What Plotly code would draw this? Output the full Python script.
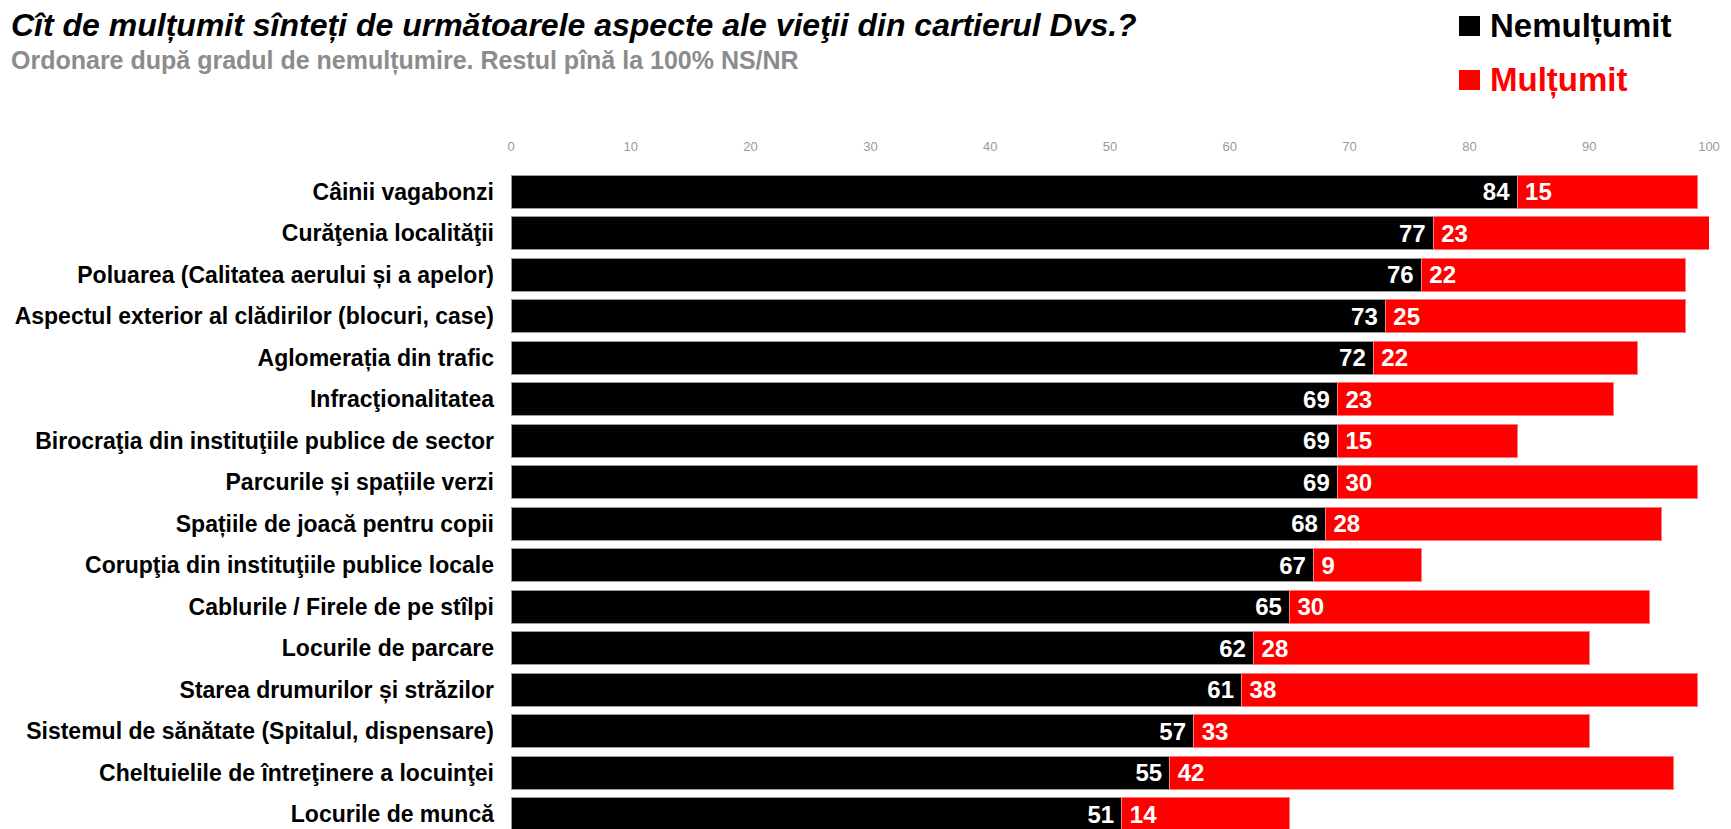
import plotly.graph_objects as go

# Data (percentages)
categories = [
    'Câinii vagabonzi',
    'Curăţenia localităţii',
    'Poluarea (Calitatea aerului și a apelor)',
    'Aspectul exterior al clădirilor (blocuri, case)',
    'Aglomerația din trafic',
    'Infracţionalitatea',
    'Birocraţia din instituţiile publice de sector',
    'Parcurile și spațiile verzi',
    'Spațiile de joacă pentru copii',
    'Corupţia din instituţiile publice locale',
    'Cablurile / Firele de pe stîlpi',
    'Locurile de parcare',
    'Starea drumurilor și străzilor',
    'Sistemul de sănătate (Spitalul, dispensare)',
    'Cheltuielile de întreţinere a locuinţei',
    'Locurile de muncă',
]
nemultumit = [84, 77, 76, 73, 72, 69, 69, 69, 68, 67, 65, 62, 61, 57, 55, 51]
multumit = [15, 23, 22, 25, 22, 23, 15, 30, 28, 9, 30, 28, 38, 33, 42, 14]
x_ticks = [0, 10, 20, 30, 40, 50, 60, 70, 80, 90, 100]

# page is 1731x829, the body margin puts the figure at (8, 8)
OFF = 8
PAGE_W, PAGE_H = 1731, 829
W, H = PAGE_W - OFF, PAGE_H - OFF
L, R, T, B = 511 - OFF, 22, 171 - OFF, 0
FONT = 'Liberation Sans, Arial, sans-serif'


def px_x(x):
    # page pixel -> paper fraction
    return (x - OFF - L) / (W - L - R)


def px_y(y):
    return (H - B - (y - OFF)) / (H - T - B)


fig = go.Figure()
fig.add_trace(go.Bar(
    y=categories, x=nemultumit, orientation='h', name='Nemulțumit',
    marker=dict(color='#000000', line=dict(color='#9a9a9a', width=1)),
    texttemplate='%{x}\u2009', textposition='inside', insidetextanchor='end',
    textangle=0, constraintext='none',
    textfont=dict(family=FONT, size=24, color='white', weight='bold'),
))
fig.add_trace(go.Bar(
    y=categories, x=multumit, orientation='h', name='Mulțumit',
    marker=dict(color='#ff0000', line=dict(color='#ff7a7a', width=1)),
    texttemplate='\u2009%{x}', textposition='inside', insidetextanchor='start',
    textangle=0, constraintext='none',
    textfont=dict(family=FONT, size=24, color='white', weight='bold'),
))

fig.update_layout(
    barmode='stack', bargap=0.2,
    width=W, height=H,
    margin=dict(l=L, r=R, t=T, b=B, pad=0),
    paper_bgcolor='white', plot_bgcolor='white',
    showlegend=False,
    font=dict(family=FONT),
    uniformtext=dict(minsize=24, mode='show'),
)
fig.update_xaxes(
    range=[0, 100], side='top', tickvals=x_ticks,
    showgrid=False, zeroline=False, showline=False,
    ticks='outside', ticklen=14, tickcolor='rgba(0,0,0,0)',
    tickfont=dict(family='Liberation Sans Narrow, ' + FONT, size=13, color='#9a9a9a'),
)
fig.update_yaxes(
    type='category', range=[15.355, -0.5],
    showgrid=False, zeroline=False, showline=False,
    ticklabelstandoff=16,
    tickfont=dict(family=FONT, size=23, color='black', weight='bold'),
)

# Title and subtitle
fig.add_annotation(
    xref='paper', yref='paper', x=px_x(9), y=px_y(25), xanchor='left', yanchor='middle',
    text='Cît de mulțumit sînteți de următoarele aspecte ale vieţii din cartierul Dvs.?',
    showarrow=False,
    font=dict(family=FONT, size=32, color='black', weight='bold', style='italic'),
)
fig.add_annotation(
    xref='paper', yref='paper', x=px_x(9), y=px_y(60), xanchor='left', yanchor='middle',
    text='Ordonare după gradul de nemulțumire. Restul pînă la 100% NS/NR',
    showarrow=False,
    font=dict(family=FONT, size=25, color='#8c8c8c', weight='bold'),
)

# Legend drawn as squares + text
legend_items = [('Nemulțumit', '#000000', 26), ('Mulțumit', '#ff0000', 80)]
for name, color, yc in legend_items:
    fig.add_shape(
        type='rect', xref='paper', yref='paper',
        x0=px_x(1459), x1=px_x(1480), y0=px_y(yc - 10), y1=px_y(yc + 10),
        fillcolor=color, line=dict(width=0),
    )
    fig.add_annotation(
        xref='paper', yref='paper', x=px_x(1488), y=px_y(yc), xanchor='left', yanchor='middle',
        text=name, showarrow=False,
        font=dict(family=FONT, size=33, color=color, weight='bold'),
    )

fig.write_html("out.html")
